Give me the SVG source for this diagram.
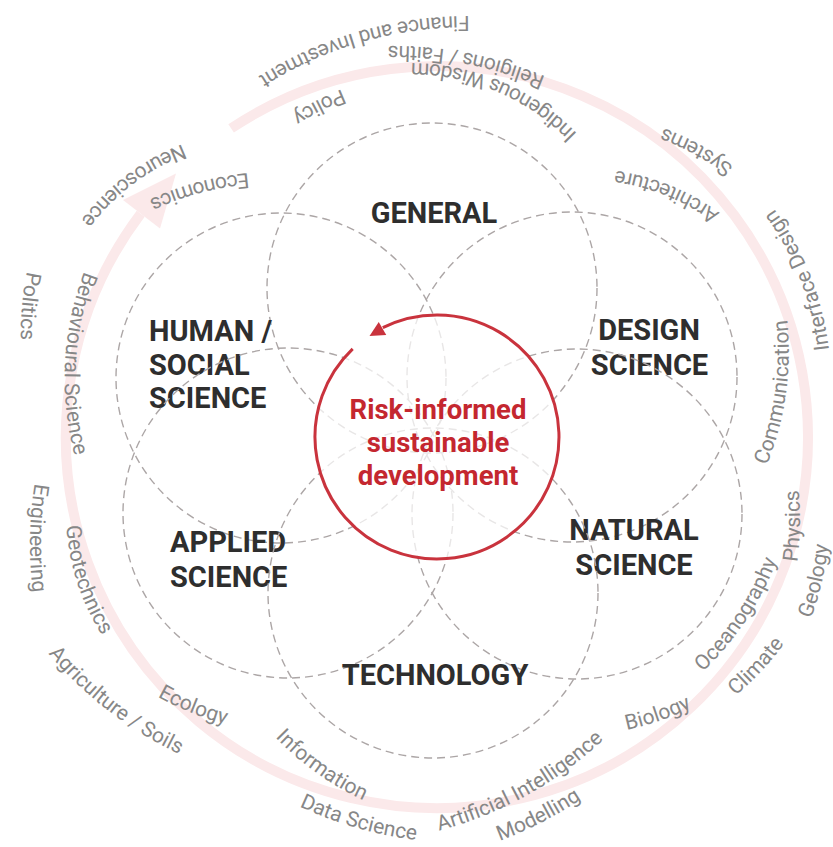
<svg xmlns="http://www.w3.org/2000/svg" xmlns:xlink="http://www.w3.org/1999/xlink" width="833" height="847" viewBox="0 0 833 847">
<style>
.dash{fill:none;stroke:#aca6a6;stroke-width:1.4;stroke-dasharray:8 5}
.dom{font-family:Roboto,"Liberation Sans",sans-serif;font-weight:700;font-size:29px;fill:#2e2e2e}
.mid{text-anchor:middle}
.ctr{font-family:Roboto,"Liberation Sans",sans-serif;font-weight:700;font-size:27.5px;fill:#c4272f;text-anchor:middle}
.lbl{font-family:Roboto,"Liberation Sans",sans-serif;font-size:21px;fill:#878787;text-anchor:middle}
.ring{fill:none;stroke:#fbe9ea;stroke-width:10}
</style>
<defs>
<path id="a230" d="M230,224 A230 230 0 0 0 0,-6 A230 230 0 0 0 -230,224"/>
<path id="a300" d="M300,294 A300 300 0 0 0 0,-6 A300 300 0 0 0 -300,294"/>
<path id="a390" d="M390,384 A390 390 0 0 0 0,-6 A390 390 0 0 0 -390,384"/>
</defs>
<rect width="833" height="847" fill="#ffffff"/>
<g id="connectors">
<path id="outer-cycle" class="ring" d="M231.1,128.4 A371 371 0 1 1 140.7,213.7"/>
<polygon points="176,173.5 123,200 160,228.5" fill="#fbe9ea"/>
</g>
<g id="general"><circle class="dash" cx="432" cy="288" r="165"/><text class="dom mid" x="434" y="223">GENERAL</text></g>
<g id="human-social-science"><circle class="dash" cx="281" cy="378" r="165"/><text class="dom" x="149" y="341">HUMAN /</text><text class="dom" x="149" y="374.5">SOCIAL</text><text class="dom" x="149" y="408">SCIENCE</text></g>
<g id="design-science"><circle class="dash" cx="572" cy="377" r="165"/><text class="dom mid" x="649" y="339.5">DESIGN</text><text class="dom mid" x="649.5" y="375">SCIENCE</text></g>
<g id="applied-science"><circle class="dash" cx="288" cy="513" r="165"/><text class="dom" x="170" y="552">APPLIED</text><text class="dom" x="170" y="586.5">SCIENCE</text></g>
<g id="natural-science"><circle class="dash" cx="577" cy="514" r="165"/><text class="dom mid" x="634" y="540">NATURAL</text><text class="dom mid" x="634" y="575">SCIENCE</text></g>
<g id="technology"><circle class="dash" cx="433" cy="593" r="165"/><text class="dom mid" x="435" y="685">TECHNOLOGY</text></g>
<g id="risk-informed-sustainable-development">
<circle cx="437" cy="437" r="122" fill="#ffffff" fill-opacity="0.72"/>
<path d="M352.7,348.8 A122 122 0 1 0 382.8,327.7" fill="none" stroke="#c9333d" stroke-width="3"/>
<polygon points="369.5,336 386.25,335 378.75,322" fill="#c9333d"/>
<text class="ctr" x="438" y="419">Risk-informed</text>
<text class="ctr" x="438" y="452">sustainable</text>
<text class="ctr" x="438" y="485">development</text>
</g>
<g id="disciplines">
<text class="lbl" transform="translate(361,37) rotate(-16)"><textPath href="#a390" startOffset="50%">Finance and Investment</textPath></text>
<text class="lbl" transform="translate(467,59) rotate(11)"><textPath href="#a390" startOffset="50%">Religions / Faiths</textPath></text>
<text class="lbl" transform="translate(499,87) rotate(23)"><textPath href="#a230" startOffset="50%">Indigenous Wisdom</textPath></text>
<text class="lbl" transform="translate(319,106) rotate(-27)"><textPath href="#a300" startOffset="50%">Policy</textPath></text>
<text class="lbl" transform="translate(130,180) rotate(-37)"><textPath href="#a230" startOffset="50%">Neuroscience</textPath></text>
<text class="lbl" transform="translate(199,188) rotate(-15)"><textPath href="#a300" startOffset="50%">Economics</textPath></text>
<text class="lbl" transform="translate(28,306) rotate(-85)"><textPath href="#a300" startOffset="50%">Politics</textPath></text>
<text class="lbl" transform="translate(71,363) rotate(-87)"><textPath href="#a300" startOffset="50%">Behavioural Science</textPath></text>
<text class="lbl" transform="translate(697,150) rotate(28.5)"><textPath href="#a300" startOffset="50%">Systems</textPath></text>
<text class="lbl" transform="translate(668,191) rotate(22)"><textPath href="#a230" startOffset="50%">Architecture</textPath></text>
<text class="lbl" transform="translate(805,278) rotate(68.8)"><textPath href="#a300" startOffset="50%">Interface Design</textPath></text>
<text class="lbl" transform="translate(780,393) rotate(98)"><textPath href="#a300" startOffset="50%">Communication</textPath></text>
<text class="lbl" transform="translate(794,526) rotate(91)"><textPath href="#a300" startOffset="50%">Physics</textPath></text>
<text class="lbl" transform="translate(816,581) rotate(103)"><textPath href="#a300" startOffset="50%">Geology</textPath></text>
<text class="lbl" transform="translate(741,617) rotate(123.6)"><textPath href="#a300" startOffset="50%">Oceanography</textPath></text>
<text class="lbl" transform="translate(757,667) rotate(133)"><textPath href="#a300" startOffset="50%">Climate</textPath></text>
<text class="lbl" transform="translate(658,715) rotate(161)"><textPath href="#a300" startOffset="50%">Biology</textPath></text>
<text class="lbl" transform="translate(524,790) rotate(151)"><textPath href="#a390" startOffset="50%">Artificial Intelligence</textPath></text>
<text class="lbl" transform="translate(539,817) rotate(153)"><textPath href="#a390" startOffset="50%">Modelling</textPath></text>
<text class="lbl" transform="translate(358,822) rotate(196)"><textPath href="#a390" startOffset="50%">Data Science</textPath></text>
<text class="lbl" transform="translate(320,768) rotate(215.5)"><textPath href="#a300" startOffset="50%">Information</textPath></text>
<text class="lbl" transform="translate(193,707) rotate(202)"><textPath href="#a300" startOffset="50%">Ecology</textPath></text>
<text class="lbl" transform="translate(112,706) rotate(217.6)"><textPath href="#a390" startOffset="50%">Agriculture / Soils</textPath></text>
<text class="lbl" transform="translate(83,581) rotate(252)"><textPath href="#a230" startOffset="50%">Geotechnics</textPath></text>
<text class="lbl" transform="translate(36,538) rotate(271)"><textPath href="#a390" startOffset="50%">Engineering</textPath></text>
</g>
</svg>
